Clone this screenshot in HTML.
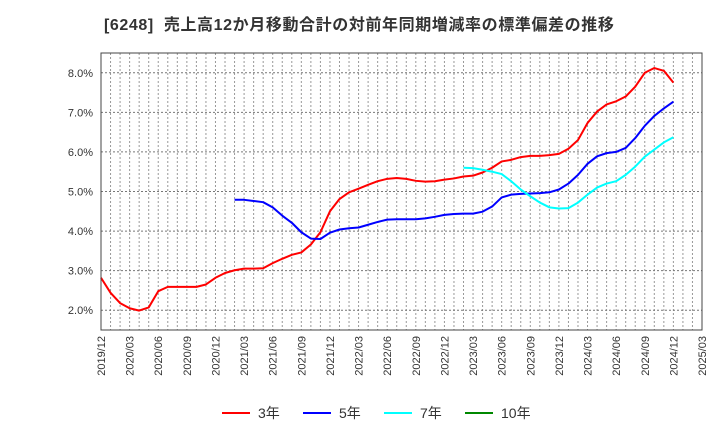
<!DOCTYPE html>
<html><head><meta charset="utf-8"><style>
body{margin:0;background:#fff;font-family:"Liberation Sans","Noto Sans CJK JP",sans-serif}
</style></head><body>
<svg width="720" height="440" xmlns="http://www.w3.org/2000/svg">
<text x="104" y="30" font-size="16" font-weight="bold" fill="#333" letter-spacing="0.6" font-family="Liberation Sans,Noto Sans CJK JP,sans-serif">[6248]<tspan dx="10">売上高12か月移動合計の対前年同期増減率の標準偏差の推移</tspan></text>
<g id="grid"></g><g id="series"></g><g id="axes"></g>
<g font-size="14" fill="#333">
<line x1="222" y1="413" x2="250" y2="413" stroke="#f00" stroke-width="2"/><text x="258" y="418">3年</text>
<line x1="303" y1="413" x2="331" y2="413" stroke="#00f" stroke-width="2"/><text x="339" y="418">5年</text>
<line x1="384" y1="413" x2="412" y2="413" stroke="#0ff" stroke-width="2"/><text x="420" y="418">7年</text>
<line x1="465" y1="413" x2="493" y2="413" stroke="#080" stroke-width="2"/><text x="501" y="418">10年</text>
</g>
</svg>
<script>
const yTicks=[2,3,4,5,6,7,8];
const s3=[2.82,2.44,2.18,2.05,1.99,2.07,2.48,2.59,2.59,2.59,2.59,2.65,2.82,2.94,3.01,3.05,3.05,3.06,3.19,3.3,3.4,3.46,3.66,3.97,4.5,4.81,4.98,5.07,5.17,5.26,5.32,5.34,5.32,5.27,5.25,5.26,5.3,5.33,5.38,5.4,5.48,5.6,5.76,5.8,5.87,5.9,5.9,5.92,5.95,6.08,6.3,6.73,7.02,7.2,7.28,7.4,7.65,8.0,8.12,8.05,7.75];
const s5start=14;
const s5=[4.79,4.79,4.76,4.73,4.6,4.39,4.21,3.97,3.81,3.8,3.96,4.04,4.07,4.09,4.16,4.23,4.29,4.3,4.3,4.3,4.32,4.36,4.41,4.43,4.44,4.44,4.49,4.62,4.85,4.92,4.94,4.95,4.96,4.98,5.05,5.2,5.42,5.7,5.89,5.97,6.0,6.1,6.35,6.66,6.91,7.1,7.27];
const s7start=38;
const s7=[5.6,5.59,5.55,5.5,5.44,5.26,5.05,4.88,4.72,4.6,4.57,4.58,4.72,4.92,5.1,5.2,5.26,5.42,5.63,5.88,6.06,6.24,6.37];
const x0=101,x1=702,y0=53,y1=330,nM=63,vMin=1.5,vMax=8.5;
const X=i=>x0+(x1-x0)*i/nM, Y=v=>y1-(v-vMin)/(vMax-vMin)*(y1-y0);
const NS="http://www.w3.org/2000/svg";
function mk(t,a,p){const e=document.createElementNS(NS,t);for(const k in a)e.setAttribute(k,a[k]);p.appendChild(e);return e;}
const g=document.getElementById('grid'),sg=document.getElementById('series'),ax=document.getElementById('axes');
for(let i=1;i<nM;i++){const l=mk('line',{x1:X(i),x2:X(i),y1:y0,y2:y1,stroke:'#999','stroke-dasharray':'2,2','stroke-width':1},g);

}
yTicks.forEach(v=>{const l=mk('line',{x1:x0,x2:x1,y1:Y(v),y2:Y(v),stroke:'#777','stroke-dasharray':'2,2','stroke-width':1},g);


const t=mk('text',{x:93,y:Y(v)+4,'text-anchor':'end','font-size':11,fill:'#333'},ax);t.textContent=v.toFixed(1)+'%';

});
const fr=mk('rect',{x:x0,y:y0,width:x1-x0,height:y1-y0,fill:'none',stroke:'#444','stroke-width':1},ax);


for(let i=0;i<=nM;i+=3){const yr=2019+Math.floor((11+i)/12),m=(11+i)%12+1;
const t=mk('text',{x:0,y:0,transform:`translate(${X(i)+4},336) rotate(-90)`,'text-anchor':'end','font-size':11,fill:'#333'},ax);
t.textContent=yr+'/'+String(m).padStart(2,'0');

}
function line(d,st,c,n){const p=mk('polyline',{points:d.map((v,k)=>X(st+k)+','+Y(v)).join(' '),fill:'none',stroke:c,'stroke-width':2,'stroke-linejoin':'round'},sg);

}
line(s3,0,'#f00','series-3y');line(s5,s5start,'#00f','series-5y');line(s7,s7start,'#0ff','series-7y');
</script>
</body></html>
